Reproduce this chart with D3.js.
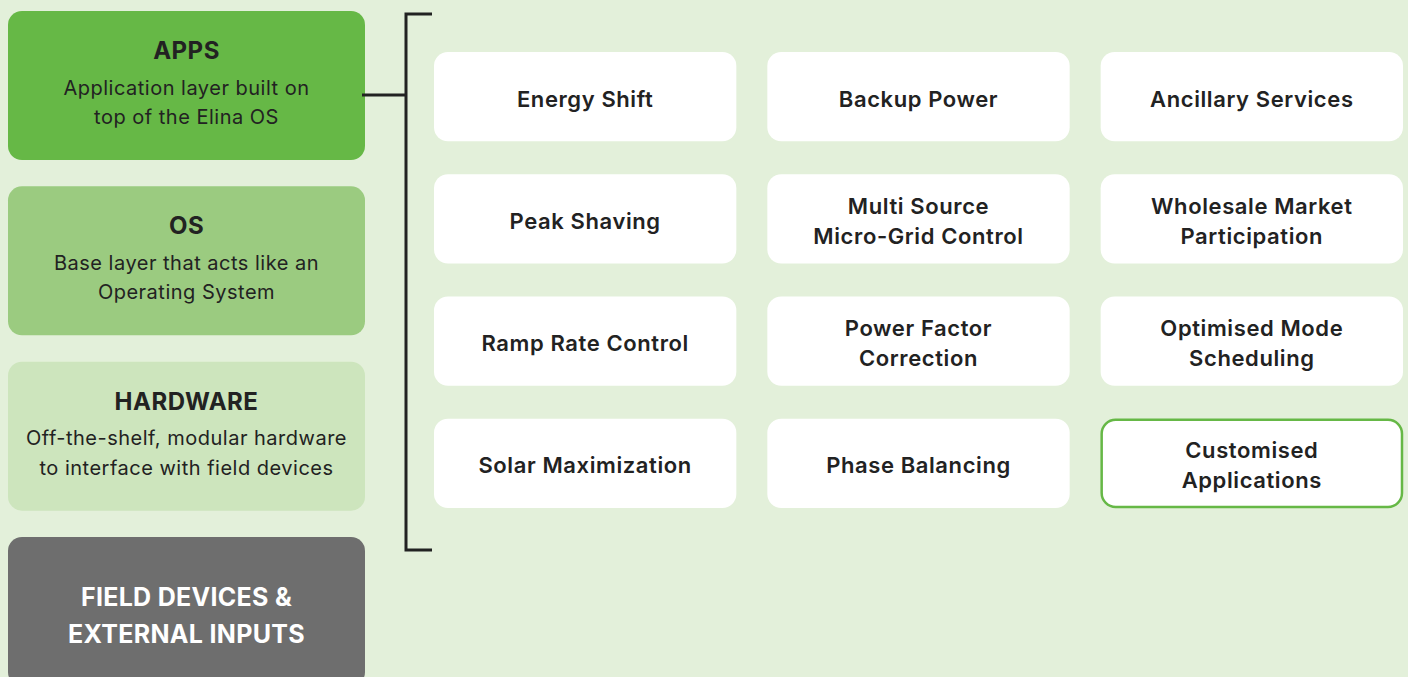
<!DOCTYPE html>
<html>
<head>
<meta charset="utf-8">
<script src="https://cdnjs.cloudflare.com/ajax/libs/d3/7.8.5/d3.min.js"></script>
<style>
  html, body { margin: 0; padding: 0; background: #e3f0da; }
  svg { display: block; }
</style>
</head>
<body>
<div id="chart"></div>
<script>
// layers of the stack, top to bottom
var layers = ["APPS", "OS", "HARDWARE", "FIELD DEVICES &\nEXTERNAL INPUTS"];
var layerNotes = [
    ["Application layer built on", "top of the Elina OS"],
    ["Base layer that acts like an", "Operating System"],
    ["Off-the-shelf, modular hardware", "to interface with field devices"],
    []
];
var layerColors = ["#66b846", "#9bcb80", "#cde5bd", "#6e6e6e"];

// applications, row by row
var apps = [
    "Energy Shift", "Backup Power", "Ancillary Services",
    "Peak Shaving", "Multi Source\nMicro-Grid Control", "Wholesale Market\nParticipation",
    "Ramp Rate Control", "Power Factor\nCorrection", "Optimised Mode\nScheduling",
    "Solar Maximization", "Phase Balancing", "Customised\nApplications"
];
var highlighted = ["Customised\nApplications"];

var W = 1408, H = 677;
var font = "Inter, 'Noto Sans', sans-serif";

var svg = d3.select("#chart").append("svg")
    .attr("width", W)
    .attr("height", H);

svg.append("rect")
    .attr("width", W).attr("height", H)
    .style("fill", "#e3f0da");

// left column of layers
var yLayer = d3.scaleBand()
    .domain(d3.range(layers.length))
    .range([11, 686])
    .paddingInner(0.15);

var layerG = svg.selectAll("g.layer")
    .data(layers)
    .enter()
    .append("g")
    .attr("class", "layer")
    .attr("transform", function(d, i){
        return "translate(8," + yLayer(i) + ")";
    });

layerG.append("rect")
    .attr("width", 357)
    .attr("height", yLayer.bandwidth())
    .attr("rx", 14)
    .style("fill", function(d, i){ return layerColors[i]; });

layerG.each(function(d, i){
    var g = d3.select(this);
    var cx = 178.5, cy = yLayer.bandwidth() / 2;
    var notes = layerNotes[i];
    if (notes.length) {
        g.append("text")
            .attr("x", cx).attr("y", cy - 35)
            .attr("text-anchor", "middle")
            .attr("dominant-baseline", "central")
            .style("font-family", font)
            .style("font-weight", 700)
            .style("font-size", "24px")
            .style("letter-spacing", "0.5px")
            .style("fill", "#222")
            .text(d);
        g.selectAll("text.note")
            .data(notes)
            .enter()
            .append("text")
            .attr("class", "note")
            .attr("x", cx)
            .attr("y", function(n, k){ return cy + 2 + k * 29.5; })
            .attr("text-anchor", "middle")
            .attr("dominant-baseline", "central")
            .style("font-family", font)
            .style("font-size", "20px")
            .style("letter-spacing", "0.5px")
            .style("fill", "#222")
            .text(function(n){ return n; });
    } else {
        var lines = d.split("\n");
        g.selectAll("text.big")
            .data(lines)
            .enter()
            .append("text")
            .attr("class", "big")
            .attr("x", cx)
            .attr("y", function(n, k){ return 60 + k * 37; })
            .attr("text-anchor", "middle")
            .attr("dominant-baseline", "central")
            .style("font-family", font)
            .style("font-weight", 700)
            .style("font-size", "25px")
            .style("letter-spacing", "0.3px")
            .style("fill", "#fff")
            .text(function(n){ return n; });
    }
});

// bracket joining APPS to the application grid
var bx = 406;
var bracket = svg.append("g")
    .style("stroke", "#222")
    .style("stroke-width", 3)
    .style("fill", "none");
bracket.append("path")
    .attr("d", "M432,14 H" + bx + " V550 H432");
bracket.append("line")
    .attr("x1", 362).attr("x2", bx)
    .attr("y1", 95)
    .attr("y2", 95);

// application grid
var nCols = 3, nRows = apps.length / nCols;
var xCol = d3.scaleBand()
    .domain(d3.range(nCols))
    .range([434, 1403])
    .paddingInner(0.093);
var yRow = d3.scaleBand()
    .domain(d3.range(nRows))
    .range([52, 508])
    .paddingInner(0.27);

var appG = svg.selectAll("g.app")
    .data(apps)
    .enter()
    .append("g")
    .attr("class", "app")
    .attr("transform", function(d, i){
        return "translate(" + xCol(i % nCols) + "," + yRow(Math.floor(i / nCols)) + ")";
    });

appG.append("rect")
    .attr("x", function(d){ return highlighted.indexOf(d) >= 0 ? 1 : 0; })
    .attr("y", function(d){ return highlighted.indexOf(d) >= 0 ? 1 : 0; })
    .attr("width", function(d){ return xCol.bandwidth() - (highlighted.indexOf(d) >= 0 ? 2 : 0); })
    .attr("height", function(d){ return yRow.bandwidth() - (highlighted.indexOf(d) >= 0 ? 2 : 0); })
    .attr("rx", 14)
    .style("fill", "#fff")
    .style("stroke", function(d){ return highlighted.indexOf(d) >= 0 ? "#66b846" : "none"; })
    .style("stroke-width", 2.5);

appG.each(function(d){
    var lines = d.split("\n");
    var cx = xCol.bandwidth() / 2, cy = yRow.bandwidth() / 2 + 2;
    d3.select(this).selectAll("text")
        .data(lines)
        .enter()
        .append("text")
        .attr("x", cx)
        .attr("y", function(n, k){ return cy + (k - (lines.length - 1) / 2) * 30; })
        .attr("text-anchor", "middle")
        .attr("dominant-baseline", "central")
        .style("font-family", font)
        .style("font-weight", 600)
        .style("font-size", "22px")
        .style("letter-spacing", "0.6px")
        .style("fill", "#222")
        .text(function(n){ return n; });
});
</script>
</body>
</html>
